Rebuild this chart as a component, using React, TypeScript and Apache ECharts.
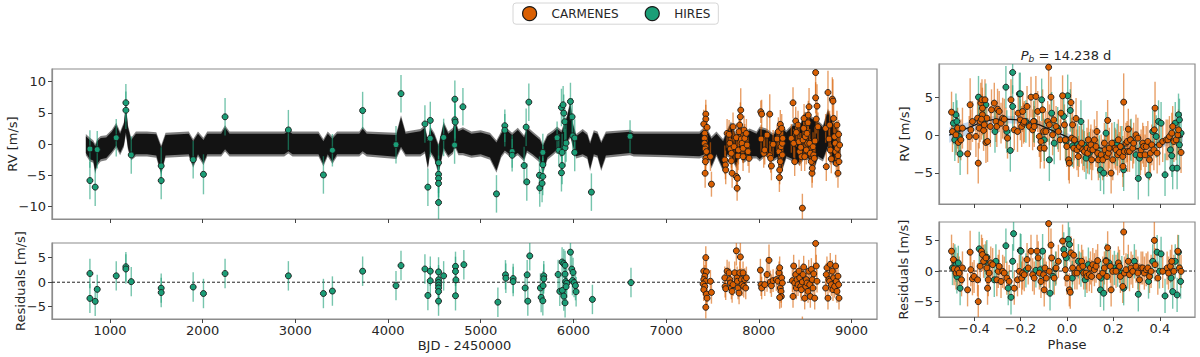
import React, { useEffect, useRef } from "react";
import * as echarts from "echarts";

const FONT = '"DejaVu Sans", sans-serif';
const ORANGE = "#d95f02";
const GREEN = "#1b9e77";
const X_MIN = 375, X_MAX = 9275;
const PH_MIN = -0.551, PH_MAX = 0.551;

const bjdTicks = [1000, 2000, 3000, 4000, 5000, 6000, 7000, 8000, 9000];
const rvTicks = [-10, -5, 0, 5, 10];
const resTicks = [-5, 0, 5];
const phaseTicks = [-0.4, -0.2, 0.0, 0.2, 0.4];

// typical error bars (m/s)
const HIRES_ERR = 3.0;
const CARM_ERR = 2.3;
const HIRES_PH_ERR = 2.8;
const CARM_PH_ERR = 2.7;

// HIRES RV vs BJD [bjd, rv, err?]
const hiresRV = [
  [784, -0.8], [784, -5.85], [841, -6.9], [863, -0.9], [1068, 1.0], [1172, 6.6], [1172, 5.4], [1230, -1.75],
  [1553, -3.5], [1553, -5.85], [1898, -2.5], [2009, -4.85, 3.2], [2242, 4.35], [2925, 2.25, 3.2], [3303, -4.95],
  [3400, -1.0, 2.6], [3726, 5.35], [4086, -0.1], [4140, 8.06], [4398, 3.2], [4430, -6.9], [4456, 3.77], [4456, 0.9],
  [4545, -3.0], [4545, -4.85], [4545, -5.5], [4545, -6.3], [4545, -9.36], [4600, 1.05], [4721, 7.17], [4721, 3.87],
  [4725, 3.5], [4718, -0.17], [4808, 5.95], [5170, -7.98], [5260, 2.92, 2.6], [5260, 2.2, 2.6], [5339, -1.2, 2.6],
  [5339, -1.8, 2.6], [5468, -3.45], [5490, 2.7], [5497, -6.06], [5519, 6.7], [5634, -5.0], [5637, -7.02], [5662, -6.3],
  [5670, -5.2], [5670, -3.3], [5670, -1.35], [5824, 1.0, 2.6], [5842, -1.0, 2.6], [5871, -4.6], [5878, -3.45],
  [5871, 5.84], [5889, 6.27], [5896, 4.94], [5907, 3.56], [5910, -0.6], [5921, 0.15], [5878, -1.35], [5968, 6.8],
  [5986, 4.35], [5993, 1.3], [6014, 0.96], [6014, -1.35], [6194, -7.7], [6611, 1.22, 2.6],
];

// CARMENES RV vs BJD
const carmRV = [
  [7428, 4.78], [7428, 3.99], [7406, 3.19], [7442, 2.66], [7417, 1.7], [7414, 0.9], [7414, 0.11], [7428, -0.43],
  [7421, -0.8], [7435, -1.22], [7428, -2.29], [7424, -2.82], [7421, -4.68], [7478, -2.02], [7489, -6.43, 2.0],
  [7633, -2.55], [7640, -3.35], [7643, -4.15], [7658, 1.7], [7679, 1.54], [7687, 0.11], [7694, -0.8], [7704, -1.49],
  [7704, -2.71], [7712, -4.68], [7722, 2.76], [7733, -0.43], [7758, 1.01], [7758, -5.21], [7766, -7.07, 2.0],
  [7769, -5.48], [7776, -1.91], [7780, -0.96], [7787, 1.97], [7794, 3.03], [7801, 4.36], [7805, 5.42, 3.5],
  [7812, 0.8], [7819, 0.11], [7830, -0.69], [7830, -2.02], [7841, 2.23], [7848, 0.9], [7866, 1.7], [7873, -0.16],
  [7884, -1.22], [7895, -2.29],
  [8021, 5.16, 1.8], [8024, 0.8], [8031, 4.78], [8053, -1.49], [8064, -0.96], [8089, 1.43, 3.5], [8118, 4.78, 3.2],
  [8118, -1.86], [8128, -2.29], [8136, -3.51], [8154, -0.05], [8197, 0.8], [8211, 1.97], [8218, -1.22],
  [8222, -5.37], [8225, -4.15], [8232, -2.82], [8232, 3.14], [8240, -0.43], [8247, 2.5], [8254, 0.11], [8258, 0.9],
  [8254, -1.75],
  [8351, 0.9], [8369, 6.59, 2.5], [8376, 0.11], [8387, -2.82], [8398, 3.67], [8405, 1.86], [8423, 3.03], [8434, 0.37],
  [8441, -1.22], [8452, -0.53], [8459, -2.02], [8470, -10.26, 2.3], [8477, 0.64], [8484, 2.5], [8488, 4.09],
  [8495, -2.02], [8502, 1.17], [8513, -0.96], [8520, 1.7], [8527, 0.11], [8531, 3.4], [8534, 4.62], [8542, 5.95, 3.0],
  [8549, 0.11], [8556, -1.49], [8567, -2.82], [8574, -4.68], [8577, -3.88], [8585, -0.43], [8592, -1.75],
  [8599, -2.29], [8606, 0.48], [8613, 7.39, 2.5], [8613, 11.43, 4.5], [8620, 3.99], [8628, 6.06, 3.5], [8638, 2.76],
  [8721, 2.5], [8728, -3.62], [8746, 8.24, 3.5], [8757, 0.8], [8764, 3.03], [8771, -0.96], [8782, -2.39],
  [8793, 7.18, 3.5], [8800, 6.86, 3.5], [8807, 4.09], [8818, 1.17], [8825, 0.11], [8829, -1.22], [8836, -3.08],
  [8843, 3.03], [8847, -0.69], [8854, -1.86], [8854, -4.68], [8861, 1.54], [8865, -2.82], [8872, -0.16],
];

// HIRES residuals vs BJD
const hiresRes = [
  [784, 1.78], [784, -3.3], [841, -3.9], [863, -1.45], [1068, 1.3], [1172, 3.16], [1172, 2.7], [1230, 0.12],
  [1553, -1.2], [1553, -2.1], [1898, -0.98], [2009, -2.3], [2242, 1.78], [2925, 1.3], [3303, -2.3], [3400, -1.8],
  [3726, 2.25], [4086, -0.7], [4140, 3.4], [4398, 2.7], [4430, -2.7], [4456, 2.25], [4456, 0.3], [4545, 2.1],
  [4545, 0.5], [4545, -0.05], [4545, -0.6], [4545, -1.17], [4545, -1.9], [4545, -3.85], [4600, 1.3],
  [4728, 3.23], [4728, 2.2], [4732, 0.48], [4728, -2.76], [4818, 3.58], [5185, -4.07], [5267, 1.51], [5271, 0.82],
  [5350, 0.75], [5350, 0.14], [5479, -1.17], [5501, 1.51], [5508, -3.86], [5529, 5.37], [5644, -1.17], [5652, -3.1],
  [5670, -3.79], [5680, 1.31], [5680, 0.69], [5673, -0.69], [5835, 1.58], [5853, -1.86], [5878, 4.13], [5896, 3.79],
  [5910, 3.44], [5881, -1.66], [5896, -2.83], [5910, -4.2], [5910, 1.65], [5917, 0.14], [5928, -0.21], [5921, -0.9],
  [5968, 6.13], [5982, 2.68], [5996, 1.99], [5989, 0.34], [6007, -0.07], [6022, -0.69], [6029, -1.93], [6621, -0.07],
  [6205, -3.51],
];

// CARMENES residuals vs BJD
const carmRes = [
  [7428, 5.02], [7406, 2.26], [7435, 2.13], [7417, 1.23], [7406, 0.54], [7428, 0.2], [7399, -0.35], [7417, -0.84],
  [7406, -1.52], [7435, -2.42], [7442, -3.25], [7428, -5.11], [7478, 0.2], [7489, -2.08],
  [7633, 0.89], [7636, -0.84], [7643, -1.32], [7658, 2.26], [7679, 1.92], [7687, 0.54], [7694, -0.15], [7704, -1.18],
  [7712, -1.87], [7722, -0.49], [7740, 1.92], [7758, 6.4, 3.0], [7766, 0.89], [7769, 0.2], [7776, -1.18],
  [7787, -2.21], [7794, 1.92], [7801, 5.16, 3.0], [7812, 0.54], [7819, -0.49], [7830, 1.92], [7837, -0.84],
  [7848, 0.54], [7859, -1.18], [7866, 0.89],
  [8017, 2.47], [8024, -0.49], [8031, -1.18], [8064, -0.49], [8089, 1.57, 3.5], [8110, 4.47, 3.2], [8125, 0.06],
  [8136, -0.7], [8154, 0.33], [8189, 0.54], [8207, 0.2], [8218, 1.92], [8225, 2.95], [8232, -1.18], [8240, -1.87],
  [8243, -2.9], [8247, 0.89], [8254, -0.15], [8225, -3.11],
  [8362, 0.33], [8369, -2.9], [8376, 3.3], [8387, -0.15], [8398, 1.57], [8405, -1.18], [8412, 0.54], [8423, -0.49],
  [8434, 2.26], [8441, 0.89], [8452, -0.84], [8459, -1.52], [8470, 0.06], [8477, 1.57], [8484, 3.09], [8495, -3.25],
  [8506, -0.84], [8513, 0.54], [8520, -0.15], [8531, -1.87], [8538, 2.26], [8549, -0.49], [8556, -2.9], [8567, 2.61],
  [8577, 0.54], [8585, -1.18], [8592, 1.71], [8603, -3.25], [8613, 7.91, 4.5], [8620, 3.3], [8628, 0.2],
  [8470, -9.3, 2.3],
  [8721, -1.18], [8728, 1.57], [8735, 2.95], [8746, -3.25], [8757, 0.54], [8764, 0.2], [8771, 3.64], [8782, -0.49],
  [8793, 2.26], [8800, -1.52], [8807, 0.89], [8818, -0.84], [8829, 3.3], [8836, 0.2], [8843, -1.87], [8854, 1.23],
  [8861, -0.49], [8865, -3.25],
];

// GP + Keplerian model envelope vs BJD [bjd, lower, upper]
const gpBand = [
  [740, -1.8, 1.6], [784, -2.8, 1.0], [820, -3.0, 0.6], [841, -4.8, 0.0], [863, -3.5, 0.8], [900, -2.8, 1.3],
  [960, -2.6, 1.4], [1020, -1.6, 2.3], [1068, -0.6, 3.4], [1110, -1.8, 2.0], [1150, -0.5, 3.5], [1172, 1.5, 6.5],
  [1195, -1.0, 3.0], [1230, -2.6, 1.0], [1280, -2.0, 2.0], [1400, -2.0, 2.0], [1500, -2.2, 1.9], [1553, -4.9, -0.2],
  [1600, -2.2, 1.8], [1850, -2.0, 2.0], [1898, -3.8, 0.8], [1950, -2.0, 2.0], [2009, -3.4, 1.0], [2050, -2.0, 2.0],
  [2200, -2.0, 2.0], [2242, -1.2, 3.0], [2290, -2.0, 2.0], [2880, -2.0, 2.0], [2925, -1.5, 2.4], [2970, -2.0, 2.0],
  [3250, -2.0, 2.0], [3303, -3.6, 0.8], [3350, -2.0, 2.0], [3400, -3.2, 1.2], [3450, -2.0, 2.0], [3690, -2.0, 2.0],
  [3726, -1.5, 2.8], [3770, -2.0, 2.0], [4090, -2.4, 1.8], [4140, -0.8, 4.6], [4190, -2.0, 2.0], [4350, -2.0, 2.4],
  [4398, -1.5, 3.0], [4430, -4.1, 0.8], [4456, -1.5, 2.8], [4500, -2.5, 1.8], [4545, -4.9, 0.0], [4600, -1.0, 3.6],
  [4650, -2.2, 2.0], [4700, -1.6, 2.6], [4721, -0.5, 3.9], [4760, -1.8, 2.4], [4808, -1.8, 2.7], [4900, -2.2, 2.0],
  [5000, -2.0, 2.2], [5100, -2.5, 1.8], [5170, -4.6, 0.6], [5220, -2.2, 2.0], [5260, -1.4, 2.8], [5339, -2.3, 1.8],
  [5400, -1.8, 2.6], [5468, -2.8, 1.4], [5500, -1.4, 2.8], [5560, -2.0, 2.0], [5640, -3.0, 1.0], [5670, -4.9, 0.0],
  [5720, -2.5, 1.6], [5780, -1.8, 2.2], [5824, -1.2, 2.8], [5871, -2.2, 2.2], [5930, 0.0, 4.6], [5968, 1.0, 7.0],
  [5993, -0.5, 3.5], [6030, -2.3, 1.6], [6100, -2.0, 2.4], [6150, -2.4, 1.8], [6180, -4.3, 0.4], [6220, -2.0, 2.2],
  [6260, -2.2, 2.0], [6300, -4.3, 0.5], [6350, -2.2, 2.0], [6611, -1.8, 2.3], [6650, -2.0, 2.0], [7000, -2.1, 2.0],
  [7360, -2.3, 2.0], [7417, -2.0, 2.8], [7460, -2.4, 2.0], [7489, -3.9, 1.2], [7543, -2.0, 2.0], [7615, -4.4, 0.8],
  [7660, -2.0, 2.4], [7700, -2.3, 3.6], [7758, -3.9, 1.5], [7794, -1.8, 4.1], [7830, -3.1, 1.8], [7900, -2.3, 2.5],
  [7975, -2.3, 2.0], [8010, -2.8, 2.8], [8082, -1.8, 2.5], [8154, -2.8, 1.7], [8200, -2.4, 2.6], [8225, -5.5, 3.3],
  [8297, -2.3, 2.2], [8369, -2.8, 3.3], [8441, -3.4, 3.0], [8495, -2.3, 5.2], [8549, -2.8, 4.6], [8603, -3.9, 4.1],
  [8638, -2.3, 3.8], [8692, -2.8, 3.0], [8746, -0.7, 5.7], [8800, -3.4, 3.6], [8854, -3.4, 2.5], [8880, -2.5, 1.5],
];

// Phase-folded RV [phase, rv, err?]
const carmPhase = [
  [-0.497, 3.04], [-0.493, 0.48], [-0.478, 0.04], [-0.471, 0.92], [-0.468, -0.97], [-0.457, -0.62], [-0.45, 0.92],
  [-0.428, -2.47], [-0.421, -0.18], [-0.417, 4.01, 3.5], [-0.414, 0.7], [-0.407, 1.8], [-0.392, -0.18],
  [-0.382, -3.7], [-0.385, 2.24], [-0.378, 0.92], [-0.374, 1.8], [-0.371, 4.23], [-0.366, 4.67], [-0.364, 2.69],
  [-0.359, 0.62], [-0.356, 1.36], [-0.353, 4.67], [-0.349, -0.97], [-0.345, 2.24], [-0.342, -0.84], [-0.364, 3.57],
  [-0.368, 2.11], [-0.33, 1.14], [-0.325, 3.35], [-0.313, 4.23], [-0.306, 1.8], [-0.302, 1.14], [-0.299, 3.43],
  [-0.292, 3.13], [-0.284, 1.58], [-0.277, 2.24], [-0.27, 2.11], [-0.263, 0.92], [-0.256, -0.4], [-0.241, 4.67],
  [-0.227, 0.7], [-0.213, 0.48], [-0.21, 2.9], [-0.201, 2.02], [-0.195, 1.14], [-0.191, 3.13], [-0.187, 1.58],
  [-0.184, 1.8], [-0.172, 3.79], [-0.162, 1.14], [-0.155, 5.02], [-0.148, 0.7], [-0.144, 1.8], [-0.141, 1.14],
  [-0.134, 5.11], [-0.126, 3.13], [-0.119, -0.18], [-0.115, -1.72], [-0.112, -0.84], [-0.105, 3.35], [-0.098, -1.72],
  [-0.101, 0.48], [-0.091, 0.48], [-0.083, 1.8], [-0.079, 8.98, 4.0], [-0.076, 1.36], [-0.069, 5.02], [-0.062, 0.04],
  [-0.057, 2.02], [-0.047, 1.14], [-0.037, 0.48], [-0.029, -0.62], [-0.026, 2.9], [-0.019, 5.2], [-0.011, 1.36],
  [-0.007, -0.62], [-0.001, -1.5], [0.007, -3.26], [0.01, -3.7], [0.017, 4.31], [0.02, -0.4], [0.024, 1.36],
  [0.029, -1.72], [0.032, -0.62], [0.039, 2.2], [0.043, -1.94], [0.049, -2.82], [0.053, -1.5], [0.063, -1.06],
  [0.068, -1.94], [0.075, -2.16], [0.086, -1.72], [0.089, -2.38], [0.092, -0.62], [0.101, -1.85], [0.103, -1.28],
  [0.106, -3.26], [0.111, -1.94], [0.118, -0.62], [0.125, -1.5], [0.129, 0.48], [0.132, -2.38], [0.135, -3.26],
  [0.147, -2.6], [0.154, -3.26], [0.161, -1.06], [0.164, -1.94], [0.172, -2.82], [0.175, 1.94], [0.178, -2.38],
  [0.182, -1.72], [0.19, -5.02], [0.193, -1.06], [0.197, -3.26], [0.207, -1.72], [0.211, -1.94], [0.218, -2.6],
  [0.221, -0.62], [0.226, -2.29], [0.23, -1.5], [0.24, -2.82], [0.244, 4.36, 3.8], [0.241, -4.14], [0.247, -2.16],
  [0.254, -1.06], [0.259, -0.84], [0.261, -2.16], [0.264, 0.79], [0.269, -2.16], [0.273, -0.62], [0.283, -1.72],
  [0.287, -1.06], [0.297, 0.04], [0.305, -0.4], [0.316, -2.6], [0.319, -1.94], [0.326, -1.06], [0.33, -1.5],
  [0.336, -2.6], [0.341, -1.5], [0.348, -0.84], [0.355, -3.26], [0.359, -2.38], [0.365, -1.28], [0.374, -1.94],
  [0.379, 3.57, 3.5], [0.376, 0.7], [0.388, -2.38], [0.398, -1.28], [0.412, -0.84], [0.427, -0.62], [0.434, -0.62],
  [0.441, -0.18], [0.451, 0.26], [0.455, 1.14], [0.46, -0.84], [0.47, -0.62], [0.477, 0.04], [0.48, 0.7],
  [0.491, -2.29],
];

const hiresPhase = [
  [-0.489, 1.58], [-0.483, -0.62], [-0.478, 2.69], [-0.474, 1.8], [-0.477, 0.48], [-0.46, -2.47], [-0.464, -0.18],
  [-0.381, 5.02], [-0.349, 4.01], [-0.359, 2.11], [-0.31, 0.48], [-0.263, 6.34], [-0.259, 0.48], [-0.244, -2.03],
  [-0.234, 8.28], [-0.234, 3.79], [-0.205, 5.46], [-0.201, 5.46], [-0.177, 1.8], [-0.141, 1.8], [-0.109, 4.67],
  [-0.098, -0.62], [-0.076, -3.26], [-0.066, 2.9], [-0.055, -1.06], [-0.04, 0.92], [-0.014, 2.47], [-0.004, -0.84],
  [0.003, 5.2], [0.014, 3.26], [0.024, -1.41], [0.046, -1.28], [0.06, 1.8], [0.072, -1.28], [0.082, -3.04],
  [0.096, -2.38], [0.139, -2.82], [0.144, -4.58], [0.158, -5.02], [0.168, 0.26], [0.204, -1.06], [0.216, -1.28],
  [0.236, -1.59], [0.244, -4.58], [0.276, -0.62], [0.297, -2.6], [0.307, -5.72], [0.312, -3.04], [0.351, -5.28],
  [0.369, 0.48], [0.384, -0.18], [0.394, 1.8], [0.405, 1.58], [0.422, -5.24], [0.445, -1.94], [0.451, -2.73],
  [0.455, -4.36], [0.466, 1.58], [0.474, -4.36], [0.48, 2.69], [0.484, -1.28], [0.491, 0.26], [0.484, 2.02],
];

// Phase-folded residuals
const carmPhaseRes = [
  [-0.497, 3.24], [-0.489, 1.87], [-0.486, 0.38], [-0.478, -0.33], [-0.471, 0.22], [-0.464, -0.33], [-0.454, -1.43],
  [-0.45, 0.5], [-0.428, -3.07], [-0.417, 3.08, 3.5], [-0.414, 0.22], [-0.407, -1.26], [-0.4, -0.88], [-0.382, -4.99],
  [-0.385, -1.43], [-0.374, 0.77], [-0.368, 3.24], [-0.364, 2.69], [-0.359, 1.59], [-0.349, 2.14], [-0.342, -2.8],
  [-0.339, -1.43], [-0.345, 0.5], [-0.335, -0.33], [-0.328, 1.32], [-0.32, 1.04], [-0.302, -1.43], [-0.296, -0.05],
  [-0.292, 0.77], [-0.284, -1.7], [-0.277, -0.05], [-0.27, -0.33], [-0.259, -1.15], [-0.249, -1.7], [-0.227, -2.8],
  [-0.213, -1.43], [-0.205, -0.05], [-0.195, -1.15], [-0.191, -0.33], [-0.184, -0.6], [-0.172, 1.87], [-0.167, 0.5],
  [-0.155, 3.24], [-0.148, -0.6], [-0.141, -1.15], [-0.129, 3.24], [-0.124, 2.14], [-0.119, -0.33], [-0.112, -1.7],
  [-0.101, -0.6], [-0.098, -3.07], [-0.095, 0.5], [-0.089, -1.15], [-0.079, 7.74, 4.0], [-0.076, -0.05],
  [-0.069, 4.23], [-0.066, 2.14], [-0.055, -1.15], [-0.047, 0.5], [-0.037, 1.59], [-0.019, 4.89], [-0.011, 2.69],
  [-0.007, 0.22], [0.0, -1.15], [0.01, -3.07], [0.014, -3.46], [0.017, 2.97], [0.024, 0.5], [0.029, 2.58],
  [0.034, -0.33], [0.043, -0.33], [0.053, 0.5], [0.063, 1.59], [0.068, 0.77], [0.072, -0.33], [0.082, -0.33],
  [0.086, -0.88], [0.096, -0.6], [0.101, 0.5], [0.106, -0.88], [0.111, 1.04], [0.118, 0.22], [0.125, 0.77],
  [0.132, 1.7], [0.139, -0.88], [0.154, -0.33], [0.161, 0.5], [0.168, 1.59], [0.172, -0.88], [0.175, 3.79],
  [0.187, 0.77], [0.19, -3.07], [0.197, -0.05], [0.211, -0.05], [0.221, 1.32], [0.226, 0.77], [0.23, -0.88],
  [0.24, -2.52], [0.244, 6.37, 3.8], [0.247, -0.33], [0.254, 0.22], [0.264, 1.59], [0.269, -0.6], [0.276, 0.5],
  [0.283, -0.05], [0.297, 0.77], [0.305, -0.33], [0.312, -1.43], [0.319, 0.5], [0.326, 0.5], [0.333, -0.33],
  [0.341, 0.22], [0.348, 0.5], [0.355, -0.88], [0.362, -0.05], [0.376, 5.0, 3.5], [0.379, 1.04], [0.391, -1.15],
  [0.412, -0.05], [0.431, 0.5], [0.437, -0.33], [0.445, 0.77], [0.451, 1.59], [0.46, -0.05], [0.477, 3.24],
  [0.484, 0.5], [0.491, -0.05],
];

const hiresPhaseRes = [
  [-0.493, 0.5], [-0.483, 1.59], [-0.478, 1.04], [-0.474, -0.88], [-0.468, 1.32], [-0.46, -2.8], [-0.378, 3.62],
  [-0.353, 1.59], [-0.345, 2.25], [-0.313, -1.43], [-0.306, 1.59], [-0.263, 4.12], [-0.253, -2.8], [-0.241, -4.28],
  [-0.234, 1.59], [-0.23, 6.1], [-0.201, 3.35], [-0.198, 3.24], [-0.177, 0.11], [-0.134, 0.11], [-0.115, 0.22],
  [-0.105, 3.24], [-0.073, -3.62], [-0.06, -0.88], [-0.049, 0.38], [-0.014, 3.51], [-0.003, 2.14], [0.006, 5.16],
  [0.011, 4.34], [0.023, -1.15], [0.049, 1.59], [0.06, 0.22], [0.078, -1.43], [0.092, 1.04], [0.144, -3.07],
  [0.147, -1.15], [0.158, -3.62], [0.168, 1.7], [0.181, 1.32], [0.204, 0.5], [0.218, 0.22], [0.236, -0.33],
  [0.244, -2.8], [0.261, -0.05], [0.29, 1.59], [0.307, -3.79], [0.351, -1.7], [0.369, 1.59], [0.388, 3.08],
  [0.398, -0.05], [0.405, 2.8], [0.422, -4.06], [0.448, -1.15], [0.455, -3.35], [0.466, 1.59], [0.474, -3.9],
  [0.48, 3.08], [0.489, -1.7],
];

// Phase-folded Keplerian model: phase, mean, band lower, band upper
const modelPhase = [-0.507, -0.428, -0.356, -0.284, -0.213, -0.141, -0.069, 0.003, 0.075, 0.147, 0.218, 0.29, 0.362, 0.434, 0.499];
const modelMean = [0.0, 0.92, 1.8, 2.11, 2.02, 1.58, 0.7, -0.26, -1.28, -1.72, -1.94, -1.85, -1.41, -0.84, -0.18];
const modelLo = [-1.0, 0.1, 1.2, 1.6, 1.5, 1.05, 0.2, -0.75, -1.75, -2.2, -2.45, -2.35, -1.9, -1.4, -0.9];
const modelHi = [1.0, 1.7, 2.4, 2.6, 2.5, 2.1, 1.2, 0.25, -0.8, -1.25, -1.45, -1.35, -0.9, -0.3, 0.5];

const minus = (s: string) => s.replace("-", "\u2212");
const intFmt = (v: number) => minus(String(Math.round(v)));
const phFmt = (v: number) => minus(v.toFixed(1));

function xAxisCfg(gridIndex: number, min: number, max: number, ticks: number[], showLabel: boolean, name: string, fmt: any, nameGap: number) {
  return {
    type: "value",
    gridIndex,
    min,
    max,
    name,
    nameLocation: "middle",
    nameGap,
    nameMoveOverlap: false,
    nameTextStyle: { fontFamily: FONT, fontSize: 13, color: "#262626", lineHeight: 14 },
    axisLine: { show: true, onZero: false, lineStyle: { color: "#8c8c8c", width: 1.2 } },
    axisTick: { show: true, length: 4, customValues: ticks, lineStyle: { color: "#444", width: 1 } },
    axisLabel: { show: showLabel, customValues: ticks, formatter: fmt, fontFamily: FONT, fontSize: 13, color: "#262626", margin: 4, lineHeight: 14 },
    splitLine: { show: false },
  };
}

function yAxisCfg(gridIndex: number, min: number, max: number, ticks: number[], name: string, nameGap: number) {
  return {
    type: "value",
    gridIndex,
    min,
    max,
    name,
    nameLocation: "middle",
    nameGap,
    nameMoveOverlap: false,
    nameTextStyle: { fontFamily: FONT, fontSize: 13, color: "#262626" },
    axisLine: { show: true, onZero: false, lineStyle: { color: "#8c8c8c", width: 1.2 } },
    axisTick: { show: true, length: 4, customValues: ticks, lineStyle: { color: "#444", width: 1 } },
    axisLabel: { show: true, customValues: ticks, formatter: intFmt, fontFamily: FONT, fontSize: 13, color: "#262626", margin: 6 },
    splitLine: { show: false },
  };
}

function errSeries(data: any[], axis: number, color: string, defErr: number) {
  return {
    type: "custom",
    xAxisIndex: axis,
    yAxisIndex: axis,
    clip: true,
    silent: true,
    z: 2,
    data: data.map((d) => [d[0], d[1], d[2] != null ? d[2] : defErr]),
    encode: { x: 0, y: 1 },
    renderItem: (params: any, api: any) => {
      const x = api.value(0), y = api.value(1), e = api.value(2);
      const p1 = api.coord([x, y - e]);
      const p2 = api.coord([x, y + e]);
      return {
        type: "line",
        shape: { x1: p1[0], y1: p1[1], x2: p2[0], y2: p2[1] },
        style: { stroke: color, lineWidth: 1.4, opacity: 0.6 },
      };
    },
  };
}

function pointSeries(name: string, data: any[], axis: number, color: string) {
  return {
    type: "scatter",
    name,
    xAxisIndex: axis,
    yAxisIndex: axis,
    clip: true,
    z: 4,
    symbol: "circle",
    symbolSize: 6,
    itemStyle: { color, borderColor: "#1a1a1a", borderWidth: 0.9, opacity: 1 },
    data: data.map((d) => [d[0], d[1]]),
  };
}

function bandPolygon(xs: number[], lo: number[], hi: number[], api: any) {
  const pts: number[][] = [];
  for (let i = 0; i < xs.length; i++) pts.push(api.coord([xs[i], hi[i]]));
  for (let i = xs.length - 1; i >= 0; i--) pts.push(api.coord([xs[i], lo[i]]));
  return pts;
}

export default function App() {
  const ref = useRef<HTMLDivElement>(null);
  useEffect(() => {
    if (!ref.current) return;
    const chart = echarts.init(ref.current, null, { renderer: "svg" });
    const gx = gpBand.map((b) => b[0]);
    const glo = gpBand.map((b) => b[1]);
    const ghi = gpBand.map((b) => b[2]);
    const shrink = 0.35;
    const gloIn = glo.map((v, i) => Math.min(v + shrink, (v + ghi[i]) / 2));
    const ghiIn = ghi.map((v, i) => Math.max(v - shrink, (v + glo[i]) / 2));

    const option: any = {
      animation: false,
      backgroundColor: "#ffffff",
      textStyle: { fontFamily: FONT },
      legend: {
        left: 513,
        top: 3,
        orient: "horizontal",
        selectedMode: false,
        itemWidth: 14,
        itemHeight: 14,
        itemGap: 26,
        padding: [3, 8, 3, 9],
        borderColor: "#d6d6d6",
        borderWidth: 1,
        borderRadius: 3,
        textStyle: { fontFamily: FONT, fontSize: 12, color: "#262626", padding: [0, 0, 0, 10] },
        data: [
          { name: "CARMENES", icon: "circle", itemStyle: { color: ORANGE, borderColor: "#1a1a1a", borderWidth: 1.2 } },
          { name: "HIRES", icon: "circle", itemStyle: { color: GREEN, borderColor: "#1a1a1a", borderWidth: 1.2 } },
        ],
      },
      graphic: [
        {
          type: "text",
          x: 1066,
          y: 55,
          style: {
            text: "{p|P}{b|b}{t| = 14.238 d}",
            align: "center",
            verticalAlign: "middle",
            rich: {
              p: { fontFamily: FONT, fontSize: 13, fontStyle: "italic", fill: "#262626", verticalAlign: "middle", lineHeight: 16 },
              b: { fontFamily: FONT, fontSize: 9, fontStyle: "italic", fill: "#262626", verticalAlign: "bottom", lineHeight: 8 },
              t: { fontFamily: FONT, fontSize: 13, fill: "#262626", verticalAlign: "middle", lineHeight: 16 },
            },
          },
        },
      ],
      grid: [
        { left: 52, top: 69, width: 825, height: 150, show: true, borderColor: "#8c8c8c", borderWidth: 1.2, outerBoundsMode: "none" },
        { left: 52, top: 243, width: 825, height: 76, show: true, borderColor: "#8c8c8c", borderWidth: 1.2, outerBoundsMode: "none" },
        { left: 939, top: 64, width: 256, height: 140, show: true, borderColor: "#8c8c8c", borderWidth: 1.2, outerBoundsMode: "none" },
        { left: 939, top: 222, width: 256, height: 95, show: true, borderColor: "#8c8c8c", borderWidth: 1.2, outerBoundsMode: "none" },
      ],
      xAxis: [
        xAxisCfg(0, X_MIN, X_MAX, bjdTicks, false, "", intFmt, 20),
        xAxisCfg(1, X_MIN, X_MAX, bjdTicks, true, "BJD - 2450000", intFmt, 19),
        xAxisCfg(2, PH_MIN, PH_MAX, phaseTicks, false, "", phFmt, 20),
        xAxisCfg(3, PH_MIN, PH_MAX, phaseTicks, true, "Phase", phFmt, 20),
      ],
      yAxis: [
        yAxisCfg(0, -12, 12, rvTicks, "RV [m/s]", 33),
        yAxisCfg(1, -7.5, 8, resTicks, "Residuals [m/s]", 25),
        yAxisCfg(2, -9.1, 9.4, resTicks, "RV [m/s]", 28),
        yAxisCfg(3, -7.5, 8, resTicks, "Residuals [m/s]", 29),
      ],
      series: [
        // GP model band (outer halo + dark core)
        {
          type: "custom",
          xAxisIndex: 0,
          yAxisIndex: 0,
          clip: true,
          silent: true,
          z: 1,
          data: [[gx[0], 0]],
          renderItem: (params: any, api: any) => ({
            type: "group",
            children: [
              { type: "polygon", shape: { points: bandPolygon(gx, glo, ghi, api) }, style: { fill: "#000", opacity: 0.5 } },
              { type: "polygon", shape: { points: bandPolygon(gx, gloIn, ghiIn, api) }, style: { fill: "#000", opacity: 0.85 } },
            ],
          }),
        },
        // phase model band
        {
          type: "custom",
          xAxisIndex: 2,
          yAxisIndex: 2,
          clip: true,
          silent: true,
          z: 1,
          data: [[modelPhase[0], 0]],
          renderItem: (params: any, api: any) => ({
            type: "polygon",
            shape: { points: bandPolygon(modelPhase, modelLo, modelHi, api) },
            style: { fill: "#4f8fd0", opacity: 0.35 },
          }),
        },
        // zero lines in residual panels
        {
          type: "line", xAxisIndex: 1, yAxisIndex: 1, z: 1, silent: true, symbol: "none",
          lineStyle: { color: "#222", width: 1, type: [3, 2] },
          data: [[X_MIN, 0], [X_MAX, 0]],
        },
        {
          type: "line", xAxisIndex: 3, yAxisIndex: 3, z: 1, silent: true, symbol: "none",
          lineStyle: { color: "#222", width: 1, type: [3, 2] },
          data: [[PH_MIN, 0], [PH_MAX, 0]],
        },
        // error bars
        errSeries(hiresRV, 0, GREEN, HIRES_ERR),
        errSeries(carmRV, 0, ORANGE, CARM_ERR),
        errSeries(hiresRes, 1, GREEN, HIRES_ERR),
        errSeries(carmRes, 1, ORANGE, CARM_ERR),
        errSeries(carmPhase, 2, ORANGE, CARM_PH_ERR),
        errSeries(hiresPhase, 2, GREEN, HIRES_PH_ERR),
        errSeries(carmPhaseRes, 3, ORANGE, CARM_PH_ERR),
        errSeries(hiresPhaseRes, 3, GREEN, HIRES_PH_ERR),
        // phase model curve
        {
          type: "line", xAxisIndex: 2, yAxisIndex: 2, z: 3, silent: true, symbol: "none", smooth: 0.4,
          lineStyle: { color: "#111", width: 1.2 },
          data: modelPhase.map((p, i) => [p, modelMean[i]]),
        },
        // points
        pointSeries("HIRES", hiresRV, 0, GREEN),
        pointSeries("CARMENES", carmRV, 0, ORANGE),
        pointSeries("HIRES", hiresRes, 1, GREEN),
        pointSeries("CARMENES", carmRes, 1, ORANGE),
        pointSeries("HIRES", hiresPhase, 2, GREEN),
        pointSeries("CARMENES", carmPhase, 2, ORANGE),
        pointSeries("HIRES", hiresPhaseRes, 3, GREEN),
        pointSeries("CARMENES", carmPhaseRes, 3, ORANGE),
      ],
    };
    chart.setOption(option);
    return () => chart.dispose();
  }, []);
  return <div ref={ref} style={{ position: "fixed", left: 0, top: 0, width: 1200, height: 357, background: "#fff" }} />;
}
